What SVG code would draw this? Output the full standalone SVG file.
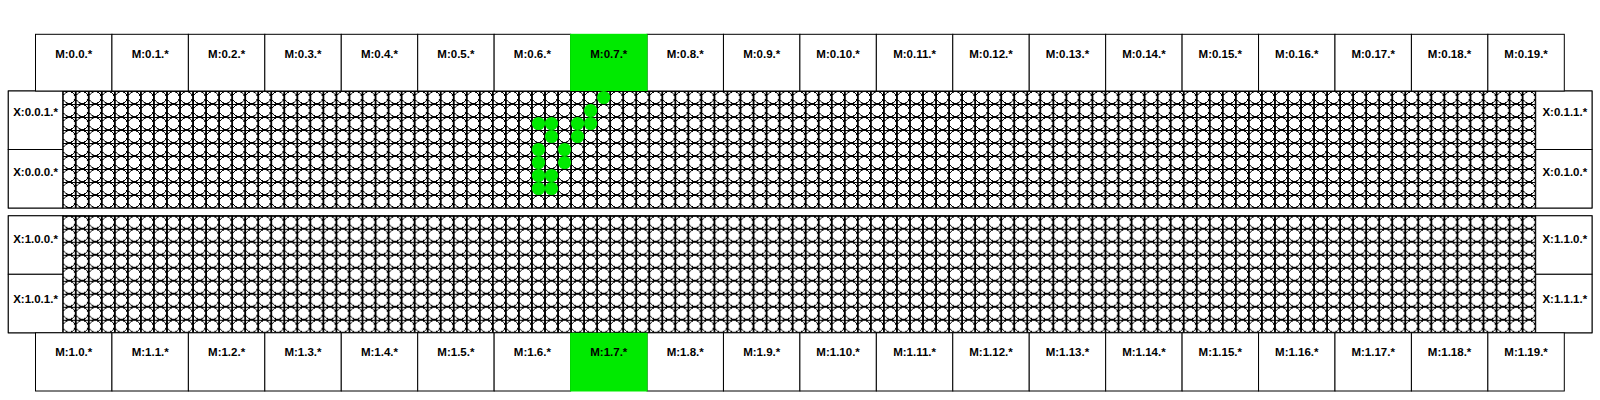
<svg xmlns="http://www.w3.org/2000/svg" width="1600" height="400" viewBox="0 0 1600 400">
<style>
.box{fill:#fff;stroke:#000;stroke-width:1}
.on{fill:#00ea00;stroke:none}
.lbl{font-family:"Liberation Sans",Arial,Helvetica,sans-serif;font-weight:bold;font-size:11.5px;fill:#000;text-anchor:middle}
.dot{fill:#00ea00}
.crisp{shape-rendering:crispEdges}
</style>
<defs>
<pattern id="cell" patternUnits="userSpaceOnUse" x="0" y="0" width="13.035" height="13">
<rect class="crisp" x="0" y="0" width="13.035" height="13" fill="#fff" stroke="#000" stroke-width="1"/>
<circle class="crisp" cx="6.5175" cy="6.5" r="6" fill="#fff" stroke="#000" stroke-width="1"/>
</pattern>
</defs>
<rect width="1600" height="400" fill="#fff"/>

<g id="block0">
<rect class="box" x="8.3" y="91" width="1583.7" height="117"/>
<rect x="0" y="0" width="1473" height="117" fill="url(#cell)" transform="translate(62.7,91)"/>
<rect x="62.7" y="91" width="1473" height="117" fill="none" stroke="#000" stroke-width="1"/>
</g>
<g id="block1">
<rect class="box" x="8.3" y="215.8" width="1583.7" height="117"/>
<rect x="0" y="0" width="1473" height="117" fill="url(#cell)" transform="translate(62.7,215.8)"/>
<rect x="62.7" y="215.8" width="1473" height="117" fill="none" stroke="#000" stroke-width="1"/>
</g>

<g id="X-0-0-1"><rect class="box" x="8.3" y="91" width="54.4" height="58.5"/><text class="lbl" x="35.5" y="115.5">X:0.0.1.*</text></g>
<g id="X-0-0-0"><rect class="box" x="8.3" y="149.5" width="54.4" height="58.5"/><text class="lbl" x="35.5" y="175.5">X:0.0.0.*</text></g>
<g id="X-0-1-1"><rect class="box" x="1535.7" y="91" width="56.3" height="58.5"/><text class="lbl" x="1564.8" y="115.5">X:0.1.1.*</text></g>
<g id="X-0-1-0"><rect class="box" x="1535.7" y="149.5" width="56.3" height="58.5"/><text class="lbl" x="1564.8" y="175.5">X:0.1.0.*</text></g>
<g id="X-1-0-0"><rect class="box" x="8.3" y="215.8" width="54.4" height="58.5"/><text class="lbl" x="35.5" y="242.5">X:1.0.0.*</text></g>
<g id="X-1-0-1"><rect class="box" x="8.3" y="274.3" width="54.4" height="58.5"/><text class="lbl" x="35.5" y="302.5">X:1.0.1.*</text></g>
<g id="X-1-1-0"><rect class="box" x="1535.7" y="215.8" width="56.3" height="58.5"/><text class="lbl" x="1564.8" y="242.5">X:1.1.0.*</text></g>
<g id="X-1-1-1"><rect class="box" x="1535.7" y="274.3" width="56.3" height="58.5"/><text class="lbl" x="1564.8" y="302.5">X:1.1.1.*</text></g>

<g id="active-cells">
<circle class="dot" cx="603.65" cy="97.5" r="6.6"/>
<circle class="dot" cx="590.62" cy="110.5" r="6.6"/>
<circle class="dot" cx="538.48" cy="123.5" r="6.6"/>
<circle class="dot" cx="551.51" cy="123.5" r="6.6"/>
<circle class="dot" cx="577.58" cy="123.5" r="6.6"/>
<circle class="dot" cx="590.62" cy="123.5" r="6.6"/>
<circle class="dot" cx="551.51" cy="136.5" r="6.6"/>
<circle class="dot" cx="577.58" cy="136.5" r="6.6"/>
<circle class="dot" cx="538.48" cy="149.5" r="6.6"/>
<circle class="dot" cx="564.55" cy="149.5" r="6.6"/>
<circle class="dot" cx="538.48" cy="162.5" r="6.6"/>
<circle class="dot" cx="564.55" cy="162.5" r="6.6"/>
<circle class="dot" cx="538.48" cy="175.5" r="6.6"/>
<circle class="dot" cx="551.51" cy="175.5" r="6.6"/>
<circle class="dot" cx="538.48" cy="188.5" r="6.6"/>
<circle class="dot" cx="551.51" cy="188.5" r="6.6"/>
</g>

<g id="top-M">
<g id="M-0-0"><rect class="box" x="35.5" y="34.3" width="76.44" height="56.7"/><text class="lbl" x="73.7" y="58.3">M:0.0.*</text></g>
<g id="M-0-1"><rect class="box" x="111.94" y="34.3" width="76.44" height="56.7"/><text class="lbl" x="150.2" y="58.3">M:0.1.*</text></g>
<g id="M-0-2"><rect class="box" x="188.38" y="34.3" width="76.44" height="56.7"/><text class="lbl" x="226.6" y="58.3">M:0.2.*</text></g>
<g id="M-0-3"><rect class="box" x="264.82" y="34.3" width="76.44" height="56.7"/><text class="lbl" x="303.0" y="58.3">M:0.3.*</text></g>
<g id="M-0-4"><rect class="box" x="341.26" y="34.3" width="76.44" height="56.7"/><text class="lbl" x="379.5" y="58.3">M:0.4.*</text></g>
<g id="M-0-5"><rect class="box" x="417.7" y="34.3" width="76.44" height="56.7"/><text class="lbl" x="455.9" y="58.3">M:0.5.*</text></g>
<g id="M-0-6"><rect class="box" x="494.14" y="34.3" width="76.44" height="56.7"/><text class="lbl" x="532.4" y="58.3">M:0.6.*</text></g>
<g id="M-0-8"><rect class="box" x="647.02" y="34.3" width="76.44" height="56.7"/><text class="lbl" x="685.2" y="58.3">M:0.8.*</text></g>
<g id="M-0-9"><rect class="box" x="723.46" y="34.3" width="76.44" height="56.7"/><text class="lbl" x="761.7" y="58.3">M:0.9.*</text></g>
<g id="M-0-10"><rect class="box" x="799.9" y="34.3" width="76.44" height="56.7"/><text class="lbl" x="838.1" y="58.3">M:0.10.*</text></g>
<g id="M-0-11"><rect class="box" x="876.34" y="34.3" width="76.44" height="56.7"/><text class="lbl" x="914.6" y="58.3">M:0.11.*</text></g>
<g id="M-0-12"><rect class="box" x="952.78" y="34.3" width="76.44" height="56.7"/><text class="lbl" x="991.0" y="58.3">M:0.12.*</text></g>
<g id="M-0-13"><rect class="box" x="1029.22" y="34.3" width="76.44" height="56.7"/><text class="lbl" x="1067.4" y="58.3">M:0.13.*</text></g>
<g id="M-0-14"><rect class="box" x="1105.66" y="34.3" width="76.44" height="56.7"/><text class="lbl" x="1143.9" y="58.3">M:0.14.*</text></g>
<g id="M-0-15"><rect class="box" x="1182.1" y="34.3" width="76.44" height="56.7"/><text class="lbl" x="1220.3" y="58.3">M:0.15.*</text></g>
<g id="M-0-16"><rect class="box" x="1258.54" y="34.3" width="76.44" height="56.7"/><text class="lbl" x="1296.8" y="58.3">M:0.16.*</text></g>
<g id="M-0-17"><rect class="box" x="1334.98" y="34.3" width="76.44" height="56.7"/><text class="lbl" x="1373.2" y="58.3">M:0.17.*</text></g>
<g id="M-0-18"><rect class="box" x="1411.42" y="34.3" width="76.44" height="56.7"/><text class="lbl" x="1449.6" y="58.3">M:0.18.*</text></g>
<g id="M-0-19"><rect class="box" x="1487.86" y="34.3" width="76.44" height="56.7"/><text class="lbl" x="1526.1" y="58.3">M:0.19.*</text></g>
<g id="M-0-7"><rect class="on" x="570.08" y="33.8" width="77.44" height="57.2"/><text class="lbl" x="608.8" y="58.3">M:0.7.*</text></g>
</g>

<g id="bottom-M">
<g id="M-1-0"><rect class="box" x="35.5" y="332.8" width="76.44" height="58.2"/><text class="lbl" x="73.7" y="355.5">M:1.0.*</text></g>
<g id="M-1-1"><rect class="box" x="111.94" y="332.8" width="76.44" height="58.2"/><text class="lbl" x="150.2" y="355.5">M:1.1.*</text></g>
<g id="M-1-2"><rect class="box" x="188.38" y="332.8" width="76.44" height="58.2"/><text class="lbl" x="226.6" y="355.5">M:1.2.*</text></g>
<g id="M-1-3"><rect class="box" x="264.82" y="332.8" width="76.44" height="58.2"/><text class="lbl" x="303.0" y="355.5">M:1.3.*</text></g>
<g id="M-1-4"><rect class="box" x="341.26" y="332.8" width="76.44" height="58.2"/><text class="lbl" x="379.5" y="355.5">M:1.4.*</text></g>
<g id="M-1-5"><rect class="box" x="417.7" y="332.8" width="76.44" height="58.2"/><text class="lbl" x="455.9" y="355.5">M:1.5.*</text></g>
<g id="M-1-6"><rect class="box" x="494.14" y="332.8" width="76.44" height="58.2"/><text class="lbl" x="532.4" y="355.5">M:1.6.*</text></g>
<g id="M-1-8"><rect class="box" x="647.02" y="332.8" width="76.44" height="58.2"/><text class="lbl" x="685.2" y="355.5">M:1.8.*</text></g>
<g id="M-1-9"><rect class="box" x="723.46" y="332.8" width="76.44" height="58.2"/><text class="lbl" x="761.7" y="355.5">M:1.9.*</text></g>
<g id="M-1-10"><rect class="box" x="799.9" y="332.8" width="76.44" height="58.2"/><text class="lbl" x="838.1" y="355.5">M:1.10.*</text></g>
<g id="M-1-11"><rect class="box" x="876.34" y="332.8" width="76.44" height="58.2"/><text class="lbl" x="914.6" y="355.5">M:1.11.*</text></g>
<g id="M-1-12"><rect class="box" x="952.78" y="332.8" width="76.44" height="58.2"/><text class="lbl" x="991.0" y="355.5">M:1.12.*</text></g>
<g id="M-1-13"><rect class="box" x="1029.22" y="332.8" width="76.44" height="58.2"/><text class="lbl" x="1067.4" y="355.5">M:1.13.*</text></g>
<g id="M-1-14"><rect class="box" x="1105.66" y="332.8" width="76.44" height="58.2"/><text class="lbl" x="1143.9" y="355.5">M:1.14.*</text></g>
<g id="M-1-15"><rect class="box" x="1182.1" y="332.8" width="76.44" height="58.2"/><text class="lbl" x="1220.3" y="355.5">M:1.15.*</text></g>
<g id="M-1-16"><rect class="box" x="1258.54" y="332.8" width="76.44" height="58.2"/><text class="lbl" x="1296.8" y="355.5">M:1.16.*</text></g>
<g id="M-1-17"><rect class="box" x="1334.98" y="332.8" width="76.44" height="58.2"/><text class="lbl" x="1373.2" y="355.5">M:1.17.*</text></g>
<g id="M-1-18"><rect class="box" x="1411.42" y="332.8" width="76.44" height="58.2"/><text class="lbl" x="1449.6" y="355.5">M:1.18.*</text></g>
<g id="M-1-19"><rect class="box" x="1487.86" y="332.8" width="76.44" height="58.2"/><text class="lbl" x="1526.1" y="355.5">M:1.19.*</text></g>
<g id="M-1-7"><rect class="on" x="570.08" y="332.8" width="77.44" height="58.7"/><text class="lbl" x="608.8" y="355.5">M:1.7.*</text></g>
</g>
</svg>
